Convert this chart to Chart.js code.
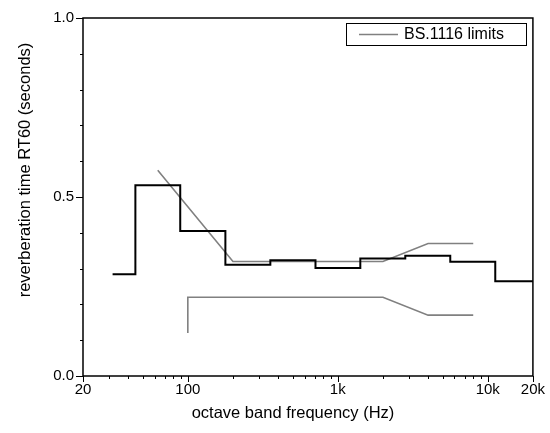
<!DOCTYPE html>
<html>
<head>
<meta charset="utf-8">
<script src="https://cdn.jsdelivr.net/npm/chart.js@4.4.1/dist/chart.umd.min.js"></script>
<style>
  html, body { margin: 0; padding: 0; background: #fff; }
  #wrap { width: 550px; height: 433px; }
</style>
</head>
<body>
<div id="wrap"><canvas id="rt"></canvas></div>
<script>
// ======= Data =======
// octave band edges (Hz) and measured RT60 per band (s)
const bandEdges = [31.5, 44.7, 89, 178, 355, 710, 1413, 2818, 5623, 11220, 20000];
const rt60 = [0.284, 0.533, 0.405, 0.311, 0.323, 0.302, 0.328, 0.336, 0.319, 0.265];

// BS.1116 tolerance limits
const upperFreq = [63, 200, 2000, 4000, 8000];
const upperRt = [0.575, 0.32, 0.32, 0.37, 0.37];
const lowerFreq = [100, 100, 2000, 4000, 8000];
const lowerRt = [0.12, 0.22, 0.22, 0.17, 0.17];

const xMajor = [20, 100, 1000, 10000, 20000];
const xLabels = { 20: "20", 100: "100", 1000: "1k", 10000: "10k", 20000: "20k" };
const yLabeled = [0, 0.5, 1];

// ======= Helpers =======
const pts = (xs, ys) => xs.map((x, i) => ({ x, y: ys[i] }));
// band value is held from its lower edge to the next edge
const stepPts = bandEdges.map((f, i) => ({ x: f, y: rt60[Math.min(i, rt60.length - 1)] }));

function xTickValues() {
  const out = [];
  for (let dec = 10; dec <= 10000; dec *= 10) {
    for (let m = 1; m <= 9; m++) {
      const v = m * dec;
      if (v >= 20 && v <= 20000) out.push(v);
    }
  }
  out.push(20000);
  return [...new Set(out)];
}

const FONT = "'Liberation Sans', Arial, sans-serif";

// frame, tick marks, axis titles and legend box
const furniture = {
  id: "furniture",
  afterDraw(chart) {
    const { ctx, chartArea: a } = chart;
    const xs = chart.scales.x, ys = chart.scales.y;
    ctx.save();
    ctx.strokeStyle = "#000";
    ctx.lineWidth = 1.5;
    ctx.strokeRect(a.left, a.top, a.right - a.left, a.bottom - a.top);

    ctx.lineWidth = 1;
    ctx.beginPath();
    xTickValues().forEach((v) => {
      const px = Math.round(xs.getPixelForValue(v)) + 0.5;
      const len = xMajor.includes(v) ? 6 : 3;
      ctx.moveTo(px, a.bottom);
      ctx.lineTo(px, a.bottom + len);
    });
    for (let i = 0; i <= 10; i++) {
      const v = i / 10;
      const py = Math.round(ys.getPixelForValue(v)) + 0.5;
      const len = (i % 5 === 0) ? 7 : 3;
      ctx.moveTo(a.left, py);
      ctx.lineTo(a.left - len, py);
    }
    ctx.stroke();

    // axis titles
    ctx.fillStyle = "#000";
    ctx.font = "16.5px " + FONT;
    ctx.textAlign = "center";
    ctx.textBaseline = "middle";
    ctx.fillText("octave band frequency (Hz)", 293, 413);
    ctx.save();
    ctx.translate(25, 170);
    ctx.rotate(-Math.PI / 2);
    ctx.fillText("reverberation time RT60 (seconds)", 0, 0);
    ctx.restore();

    // legend
    const lx = 346, ly = 23, lw = 180, lh = 22;
    ctx.lineWidth = 1;
    ctx.strokeRect(lx + 0.5, ly + 0.5, lw, lh);
    ctx.strokeStyle = "#808080";
    ctx.lineWidth = 1.6;
    ctx.beginPath();
    ctx.moveTo(359, ly + 11.5);
    ctx.lineTo(398, ly + 11.5);
    ctx.stroke();
    ctx.font = "16px " + FONT;
    ctx.textAlign = "left";
    ctx.fillText("BS.1116 limits", 404, ly + 12);
    ctx.restore();
  }
};

// ======= Chart =======
new Chart(document.getElementById("rt"), {
  type: "scatter",
  data: {
    datasets: [
      {
        label: "RT60",
        data: stepPts,
        showLine: true,
        stepped: "before",
        borderColor: "#000",
        borderWidth: 2,
        pointRadius: 0
      },
      {
        label: "BS.1116 limits",
        data: pts(upperFreq, upperRt),
        showLine: true,
        borderColor: "#808080",
        borderWidth: 1.6,
        pointRadius: 0
      },
      {
        label: "BS.1116 lower",
        data: pts(lowerFreq, lowerRt),
        showLine: true,
        borderColor: "#808080",
        borderWidth: 1.6,
        pointRadius: 0
      }
    ]
  },
  options: {
    responsive: true,
    maintainAspectRatio: false,
    animation: false,
    layout: { padding: { top: 13, right: 16, left: 0, bottom: 0 } },
    plugins: { legend: { display: false }, tooltip: { enabled: false } },
    scales: {
      x: {
        type: "logarithmic",
        min: 20,
        max: 20000,
        afterBuildTicks: (s) => { s.ticks = xTickValues().map((v) => ({ value: v })); },
        afterFit: (s) => { s.height = 57; },
        grid: { display: false, drawTicks: false },
        border: { display: false },
        ticks: {
          autoSkip: false,
          maxRotation: 0,
          padding: 5,
          color: "#000",
          font: { family: FONT, size: 15 },
          callback: (v) => xLabels[v] || ""
        },
        title: { display: false }
      },
      y: {
        min: 0,
        max: 1,
        afterBuildTicks: (s) => { s.ticks = yLabeled.map((v) => ({ value: v })); },
        afterFit: (s) => { s.width = 83; },
        grid: { display: false, drawTicks: false },
        border: { display: false },
        ticks: {
          padding: 9,
          color: "#000",
          font: { family: FONT, size: 15 },
          callback: (v) => Number(v).toFixed(1)
        },
        title: { display: false }
      }
    }
  },
  plugins: [furniture]
});
</script>
</body>
</html>
